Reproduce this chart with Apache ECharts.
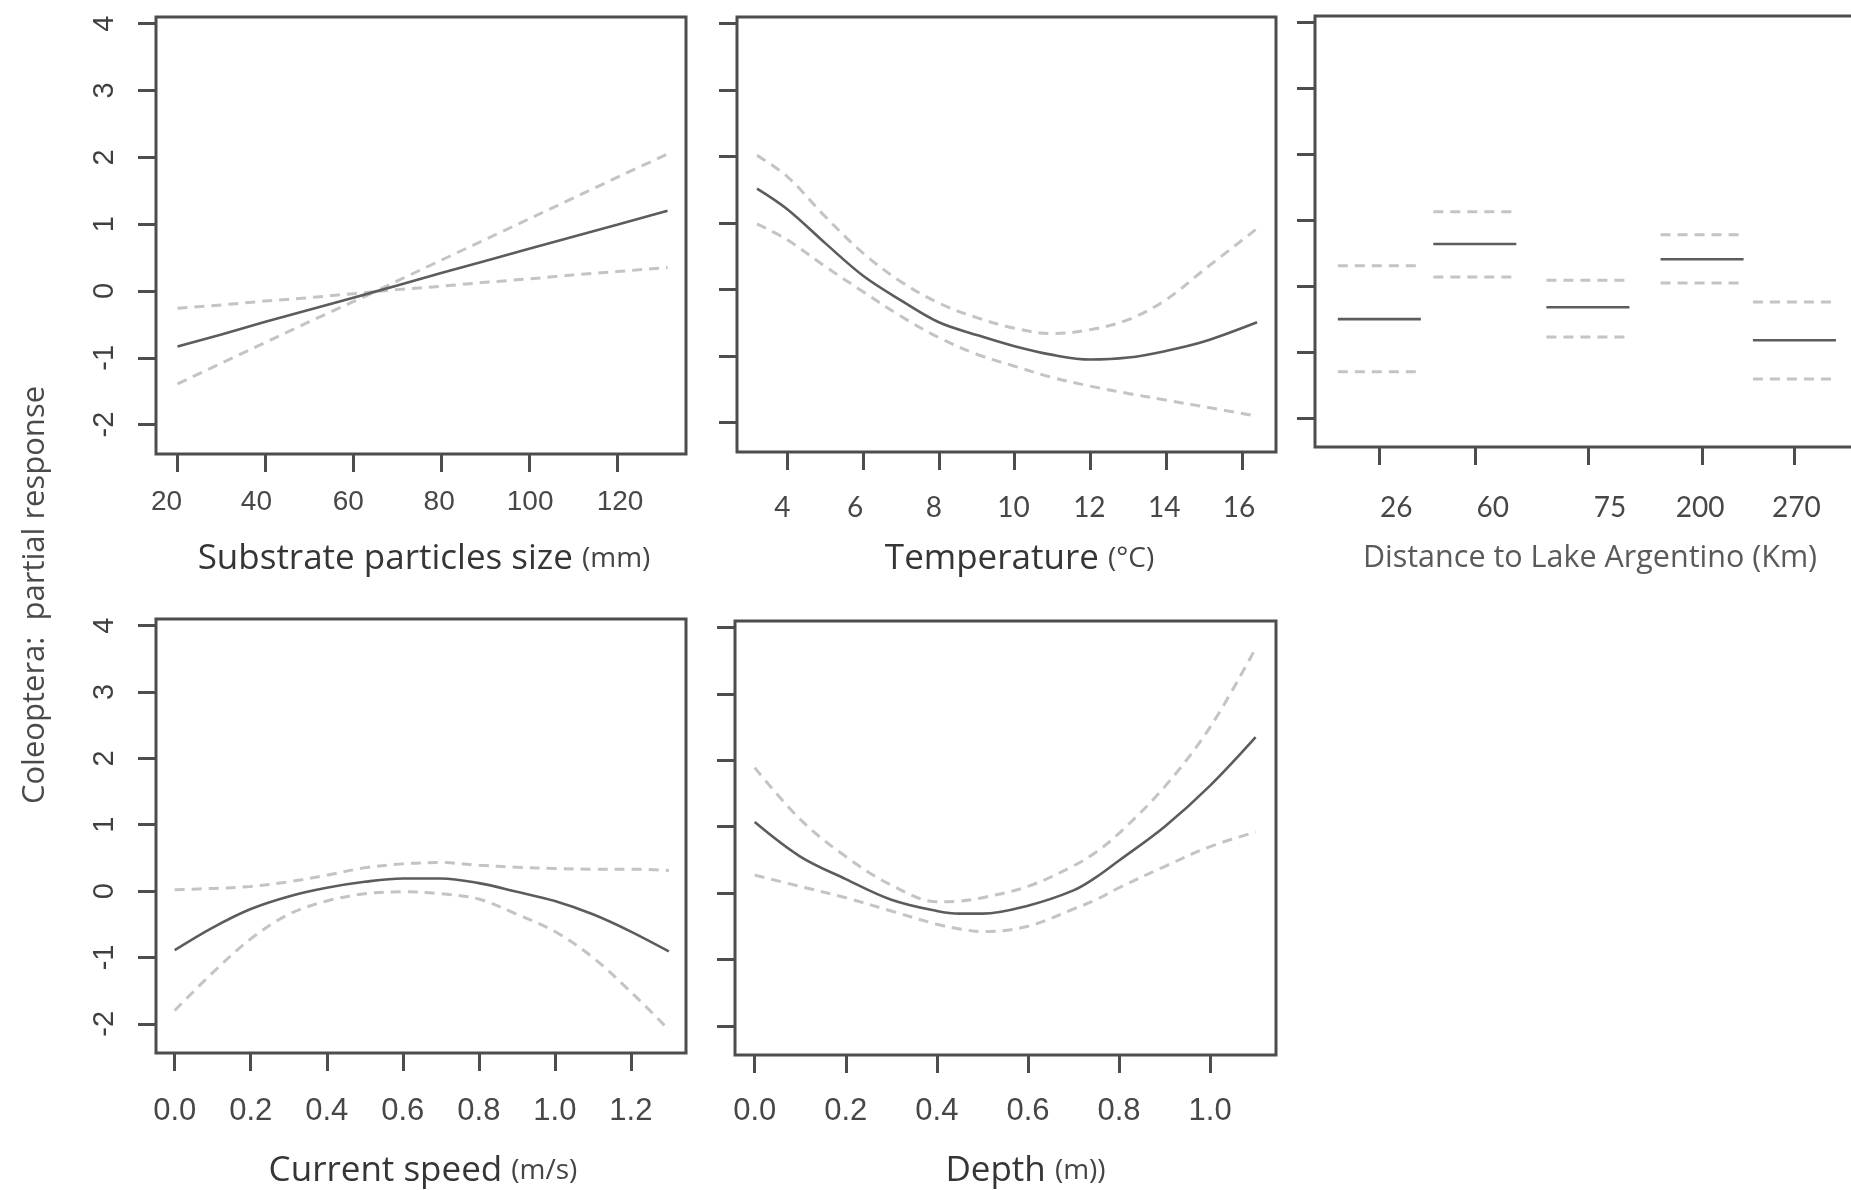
<!DOCTYPE html>
<html>
<head>
<meta charset="utf-8">
<script src="https://cdn.jsdelivr.net/npm/echarts@6/dist/echarts.min.js"></script>
<style>
html,body{margin:0;padding:0;background:#ffffff;}
#chart{width:1851px;height:1190px;}
</style>
</head>
<body>
<div id="chart"></div>
<script>
// ---------------- data ----------------
const yTicks = [-2, -1, 0, 1, 2, 3, 4];

// Substrate particles size (mm)
const substrateX     = [20, 30, 40, 50, 60, 65, 70, 80, 90, 100, 110, 120, 131.5];
const substrateFit   = [-0.83, -0.65, -0.46, -0.28, -0.10, -0.01, 0.08, 0.27, 0.45, 0.63, 0.81, 0.99, 1.20];
const substrateUpper = [-0.26, -0.21, -0.15, -0.10, -0.04, -0.01, 0.15, 0.46, 0.77, 1.08, 1.39, 1.70, 2.05];
const substrateLower = [-1.39, -1.08, -0.77, -0.46, -0.16, -0.01, 0.02, 0.07, 0.13, 0.18, 0.24, 0.29, 0.35];
const substrateTicks = [20, 40, 60, 80, 100, 120];

// Temperature (°C)
const tempX     = [3.2, 4, 5, 6, 7, 8, 9, 10, 11, 12, 13, 14, 15, 16.4];
const tempFit   = [1.52, 1.21, 0.70, 0.21, -0.16, -0.49, -0.68, -0.85, -0.98, -1.05, -1.02, -0.92, -0.78, -0.49];
const tempUpper = [2.02, 1.70, 1.10, 0.55, 0.12, -0.20, -0.42, -0.58, -0.66, -0.60, -0.45, -0.15, 0.30, 0.92];
const tempLower = [0.99, 0.75, 0.35, -0.03, -0.40, -0.72, -0.97, -1.15, -1.32, -1.45, -1.56, -1.66, -1.76, -1.90];
const tempTicks = [4, 6, 8, 10, 12, 14, 16];

// Distance to Lake Argentino (Km) - factor levels
const lakeLevels   = ['26', '60', '75', '200', '270'];
const lakeLevelPos = [1, 1.92, 3.01, 4.11, 5];
const lakeFit      = [-0.50, 0.64, -0.32, 0.41, -0.82];
const lakeUpper    = [0.31, 1.13, 0.09, 0.78, -0.24];
const lakeLower    = [-1.30, 0.14, -0.77, 0.05, -1.41];

// Current speed (m/s)
const speedX     = [0, 0.1, 0.2, 0.3, 0.4, 0.5, 0.6, 0.7, 0.8, 0.9, 1.0, 1.1, 1.2, 1.3];
const speedFit   = [-0.89, -0.55, -0.27, -0.08, 0.05, 0.14, 0.19, 0.19, 0.12, -0.01, -0.15, -0.35, -0.61, -0.91];
const speedUpper = [0.02, 0.04, 0.07, 0.14, 0.24, 0.35, 0.41, 0.43, 0.39, 0.36, 0.34, 0.33, 0.33, 0.31];
const speedLower = [-1.80, -1.23, -0.72, -0.35, -0.15, -0.04, -0.01, -0.04, -0.12, -0.35, -0.61, -1.00, -1.52, -2.09];
const speedTicks = [0, 0.2, 0.4, 0.6, 0.8, 1.0, 1.2];

// Depth (m)
const depthX     = [0, 0.1, 0.2, 0.3, 0.4, 0.45, 0.5, 0.6, 0.7, 0.75, 0.8, 0.9, 1.0, 1.1];
const depthFit   = [1.07, 0.55, 0.21, -0.10, -0.27, -0.31, -0.31, -0.19, 0.04, 0.24, 0.49, 1.00, 1.62, 2.35];
const depthUpper = [1.89, 1.11, 0.55, 0.12, -0.13, -0.12, -0.07, 0.10, 0.41, 0.62, 0.90, 1.60, 2.50, 3.69];
const depthLower = [0.27, 0.10, -0.07, -0.27, -0.47, -0.54, -0.58, -0.50, -0.24, -0.10, 0.08, 0.40, 0.70, 0.92];
const depthTicks = [0, 0.2, 0.4, 0.6, 0.8, 1.0];

// ---------------- styling ----------------
const BOX = '#4d4d4d';
const FIT_COLOR = '#5c5c5c';
const BAND_COLOR = '#c4c4c4';
const Y_MIN = -2.44, Y_MAX = 4.10;

// label nudges (px, + = right) to mimic the slightly misaligned tick labels of the original figure
function nudgedRich(shifts) {
  const r = {};
  shifts.forEach((s, i) => {
    r['l' + i] = {padding: s >= 0 ? [0, 0, 0, 2 * s] : [0, -2 * s, 0, 0]};
  });
  return r;
}
function nudgedFmt(ticks, textOf) {
  return v => {
    let i = ticks.findIndex(t => Math.abs(t - v) < 1e-9);
    if (i < 0) i = 0;
    return '{l' + i + '|' + textOf(ticks[i], i) + '}';
  };
}

const panels = [
  { grid: {left: 156, top: 17, width: 530, height: 437}, xmin: 15.11, xmax: 135.7, ticks: substrateTicks,
    text: v => String(v), shifts: [-11, -9, -5, -2, 1, 3],
    lf: {fontFamily: 'Liberation Sans', fontSize: 28}, lm: 34, yLabels: true,
    name: '{m|Substrate particles size }{u|(mm)}', nameGap: 88, namePad: [0, 0, 0, 6] },
  { grid: {left: 737, top: 17, width: 539, height: 435}, xmin: 2.672, xmax: 16.9, ticks: tempTicks,
    text: v => String(v), shifts: [-5, -8, -5, -1, -1, -2, -3],
    lf: {fontFamily: 'Lato', fontSize: 28}, lm: 42, yLabels: false,
    name: '{m|Temperature }{u|(°C)}', nameGap: 90, namePad: [0, 0, 0, 26] },
  { grid: {left: 1315, top: 16, width: 550, height: 431}, xmin: 0.38, xmax: 5.68, ticks: lakeLevelPos,
    text: (v, i) => lakeLevels[i], shifts: [17, 18, 22, -2, 2],
    lf: {fontFamily: 'Lato', fontSize: 28}, lm: 47, yLabels: false,
    name: '{d|Distance to Lake Argentino (Km)}', nameGap: 96, namePad: [0, 0, 0, 0] },
  { grid: {left: 156, top: 619, width: 530, height: 434}, xmin: -0.0492, xmax: 1.345, ticks: speedTicks,
    text: v => v.toFixed(1), shifts: [0, 0, 0, 0, 0, 0, 0],
    lf: {fontFamily: 'Liberation Sans', fontSize: 31}, lm: 43, yLabels: true,
    name: '{m|Current speed }{u|(m/s)}', nameGap: 101, namePad: [0, 0, 0, 4] },
  { grid: {left: 735, top: 621, width: 541, height: 434}, xmin: -0.0433, xmax: 1.1447, ticks: depthTicks,
    text: v => v.toFixed(1), shifts: [0, 0, 0, 0, 0, 0],
    lf: {fontFamily: 'Liberation Sans', fontSize: 31}, lm: 41, yLabels: false,
    name: '{m|Depth }{u|(m))}', nameGap: 99, namePad: [0, 0, 0, 40] }
];

const nameRich = {
  m: {fontFamily: 'Open Sans', fontSize: 35, color: '#353535'},
  u: {fontFamily: 'Open Sans', fontSize: 28, color: '#454545'},
  d: {fontFamily: 'Open Sans', fontSize: 30.5, color: '#5a5a5a'}
};

const grids = [], xAxes = [], yAxes = [];
panels.forEach((p, i) => {
  grids.push(Object.assign({show: true, borderColor: BOX, borderWidth: 3, backgroundColor: 'transparent',
    containLabel: false, outerBoundsMode: 'none'}, p.grid));
  xAxes.push({
    type: 'value', gridIndex: i, min: p.xmin, max: p.xmax,
    axisLine: {show: false, onZero: false},
    splitLine: {show: false},
    axisTick: {show: true, customValues: p.ticks, length: 18, lineStyle: {color: BOX, width: 3}},
    axisLabel: Object.assign({show: true, customValues: p.ticks, formatter: nudgedFmt(p.ticks, p.text),
      margin: p.lm, color: '#474747', rich: nudgedRich(p.shifts)}, p.lf),
    name: p.name, nameLocation: 'middle', nameGap: p.nameGap,
    nameTextStyle: {padding: p.namePad, rich: nameRich}
  });
  yAxes.push({
    type: 'value', gridIndex: i, min: Y_MIN, max: Y_MAX,
    axisLine: {show: false, onZero: false},
    splitLine: {show: false},
    axisTick: {show: true, customValues: yTicks, length: 18, lineStyle: {color: BOX, width: 3}},
    axisLabel: {show: p.yLabels, customValues: yTicks, rotate: 90, margin: 37, color: '#3f3f3f',
      fontFamily: 'Liberation Sans', fontSize: 29, formatter: v => String(v)}
  });
});

const series = [];
function lineSeries(gi, data, kind, smooth) {
  const isFit = kind === 'fit';
  return {
    type: 'line', xAxisIndex: gi, yAxisIndex: gi, data: data, showSymbol: false, symbol: 'none',
    smooth: smooth, silent: true, animation: false,
    lineStyle: isFit ? {color: FIT_COLOR, width: 2.6, type: 'solid'}
                     : {color: BAND_COLOR, width: 3, type: [10, 7]}
  };
}
function addCurve(gi, xs, fit, up, lo, smooth) {
  const zip = arr => xs.map((x, k) => [x, arr[k]]);
  series.push(lineSeries(gi, zip(up), 'band', smooth));
  series.push(lineSeries(gi, zip(lo), 'band', smooth));
  series.push(lineSeries(gi, zip(fit), 'fit', smooth));
}
addCurve(0, substrateX, substrateFit, substrateUpper, substrateLower, false);
addCurve(1, tempX, tempFit, tempUpper, tempLower, 0.35);
addCurve(3, speedX, speedFit, speedUpper, speedLower, 0.35);
addCurve(4, depthX, depthFit, depthUpper, depthLower, 0.35);

const HALF = 0.4;
lakeLevels.forEach((lv, i) => {
  const c = lakeLevelPos[i];
  series.push(lineSeries(2, [[c - HALF, lakeUpper[i]], [c + HALF, lakeUpper[i]]], 'band', false));
  series.push(lineSeries(2, [[c - HALF, lakeLower[i]], [c + HALF, lakeLower[i]]], 'band', false));
  series.push(lineSeries(2, [[c - HALF, lakeFit[i]], [c + HALF, lakeFit[i]]], 'fit', false));
});

const chart = echarts.init(document.getElementById('chart'), null, {renderer: 'canvas'});
chart.setOption({
  backgroundColor: '#ffffff',
  animation: false,
  grid: grids,
  xAxis: xAxes,
  yAxis: yAxes,
  series: series,
  graphic: [{
    type: 'text', x: 35, y: 595, rotation: Math.PI / 2,
    style: {text: 'Coleoptera:  partial response', fontFamily: 'Open Sans', fontSize: 31,
      fill: '#4a4a4a', align: 'center', verticalAlign: 'middle'}
  }]
});
</script>
</body>
</html>
